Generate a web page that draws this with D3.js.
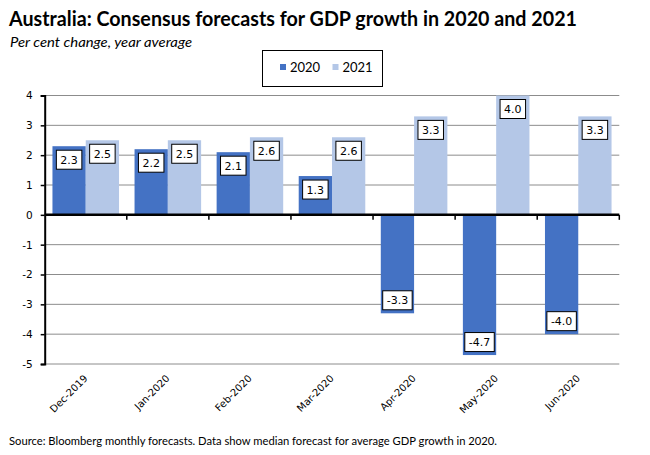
<!DOCTYPE html>
<html lang="en">
<head>
  <meta charset="UTF-8">
  <title>GDP consensus forecasts</title>
  <script src="https://d3js.org/d3.v7.min.js"></script>
  <style>
    body { margin: 0; background: #fff; }
    svg { display: block; }
  </style>
</head>
<body>
  <div id="chart"></div>

  <script>
    // datos
    const meses = ["Dec-2019", "Jan-2020", "Feb-2020", "Mar-2020", "Apr-2020", "May-2020", "Jun-2020"];
    const series = ["2020", "2021"];
    const valores2020 = [2.3, 2.2, 2.1, 1.3, -3.3, -4.7, -4.0];
    const valores2021 = [2.5, 2.5, 2.6, 2.6, 3.3, 4.0, 3.3];
    const ticksY = [4, 3, 2, 1, 0, -1, -2, -3, -4, -5];
    const colores = { "2020": "#4472C4", "2021": "#B4C7E7" };

    const ancho = 650;
    const alto = 455;

    // guion normal en lugar del signo menos de d3
    const formato = d3.formatLocale({ decimal: ".", thousands: ",", grouping: [3], currency: ["", ""], minus: "-" });
    const fmtEje = formato.format("d");
    const fmtDato = formato.format(".1f");

    const svg = d3.select("#chart")
      .append("svg")
      .attr("width", ancho)
      .attr("height", alto);

    // escalas
    const x = d3.scaleBand()
      .domain(meses)
      .range([44.7, 619.3])
      .paddingInner(0)
      .paddingOuter(0);

    const xSerie = d3.scaleBand()
      .domain(series)
      .range([0, x.bandwidth()])
      .paddingInner(0)
      .paddingOuter(0.233);

    const y = d3.scaleLinear()
      .domain([-5, 4])
      .range([364, 95.5]);

    // titulo
    svg.append("text")
      .attr("x", 9)
      .attr("y", 26)
      .attr("font-family", "Lato, 'Open Sans', sans-serif")
      .attr("font-weight", "bold")
      .attr("font-size", 20)
      .attr("textLength", 568)
      .attr("lengthAdjust", "spacingAndGlyphs")
      .text("Australia: Consensus forecasts for GDP growth in 2020 and 2021");

    svg.append("text")
      .attr("x", 10)
      .attr("y", 47)
      .attr("font-family", "Lato, 'Open Sans', sans-serif")
      .attr("font-style", "italic")
      .attr("font-size", 14)
      .attr("textLength", 182)
      .attr("lengthAdjust", "spacingAndGlyphs")
      .text("Per cent change, year average");

    // lineas de cuadricula
    svg.append("g")
      .selectAll("line")
      .data(ticksY.filter(d => d !== 0))
      .enter()
      .append("line")
      .attr("x1", x.range()[0])
      .attr("x2", x.range()[1])
      .attr("y1", d => y(d))
      .attr("y2", d => y(d))
      .attr("stroke", "#8c8c8c")
      .attr("stroke-width", 1);

    // barras
    const datos = [];
    meses.forEach((m, i) => {
      datos.push({ mes: m, serie: "2020", valor: valores2020[i] });
      datos.push({ mes: m, serie: "2021", valor: valores2021[i] });
    });

    svg.append("g")
      .selectAll(".barra")
      .data(datos)
      .enter()
      .append("rect")
      .attr("class", "barra")
      .attr("x", d => x(d.mes) + xSerie(d.serie))
      .attr("y", d => y(Math.max(0, d.valor)))
      .attr("width", xSerie.bandwidth())
      .attr("height", d => Math.abs(y(d.valor) - y(0)))
      .attr("fill", d => colores[d.serie]);

    // eje y
    const ejeY = d3.axisLeft(y)
      .tickValues(ticksY)
      .tickSize(4)
      .tickPadding(8)
      .tickFormat(fmtEje);

    const gY = svg.append("g")
      .attr("transform", `translate(${x.range()[0]},0)`)
      .call(ejeY);
    gY.select(".domain").attr("stroke", "#000").attr("stroke-width", 2);
    gY.selectAll(".tick line").attr("stroke", "#000").attr("stroke-width", 1.5);
    gY.selectAll(".tick text")
      .attr("font-family", "'DejaVu Sans', Verdana, sans-serif")
      .attr("font-size", 10.5)
      .attr("fill", "#000");

    // eje x en el cero
    const gX = svg.append("g").attr("transform", `translate(0,${y(0)})`);
    gX.append("line")
      .attr("x1", x.range()[0])
      .attr("x2", x.range()[1])
      .attr("stroke", "#000")
      .attr("stroke-width", 2.5);
    gX.selectAll(".marca")
      .data(meses.slice(1).concat([null]))
      .enter()
      .append("line")
      .attr("class", "marca")
      .attr("x1", (d, i) => x.range()[0] + x.step() * (i + 1))
      .attr("x2", (d, i) => x.range()[0] + x.step() * (i + 1))
      .attr("y1", 0)
      .attr("y2", 5)
      .attr("stroke", "#000")
      .attr("stroke-width", 1.5);

    // etiquetas de meses
    svg.append("g")
      .selectAll("text")
      .data(meses)
      .enter()
      .append("text")
      .attr("transform", d => `translate(${x(d) + x.bandwidth() / 2 + 2.5},379) rotate(-45)`)
      .attr("text-anchor", "end")
      .attr("font-family", "'DejaVu Sans', Verdana, sans-serif")
      .attr("font-size", 10)
      .attr("fill", "#000")
      .text(d => d);

    // etiquetas de datos
    const etiquetas = svg.append("g")
      .selectAll("g")
      .data(datos)
      .enter()
      .append("g");

    etiquetas.each(function(d) {
      const g = d3.select(this);
      const cx = x(d.mes) + xSerie(d.serie) + xSerie.bandwidth() / 2;
      const h = 19;
      const top = d.valor >= 0 ? y(d.valor) + 4 : y(d.valor) - 3.5 - h;
      const t = g.append("text")
        .attr("x", cx)
        .attr("y", top + h / 2)
        .attr("dy", "0.36em")
        .attr("text-anchor", "middle")
        .attr("font-family", "'DejaVu Sans', Verdana, sans-serif")
        .attr("font-size", 11)
        .attr("fill", "#000")
        .text(fmtDato(d.valor));
      const w = t.node().getComputedTextLength() + 8;
      g.insert("rect", "text")
        .attr("x", cx - w / 2)
        .attr("y", top)
        .attr("width", w)
        .attr("height", h)
        .attr("fill", "#fff")
        .attr("stroke", "#000")
        .attr("stroke-width", 1);
    });

    // leyenda
    const leyenda = svg.append("g");
    leyenda.append("rect")
      .attr("x", 262.5)
      .attr("y", 50.5)
      .attr("width", 120)
      .attr("height", 36)
      .attr("fill", "#fff")
      .attr("stroke", "#000")
      .attr("stroke-width", 1);

    const posLeyenda = [280, 332.5];
    series.forEach((s, i) => {
      leyenda.append("rect")
        .attr("x", posLeyenda[i])
        .attr("y", 64)
        .attr("width", 6)
        .attr("height", 6)
        .attr("fill", colores[s]);
      leyenda.append("text")
        .attr("x", posLeyenda[i] + 10)
        .attr("y", 67.5)
        .attr("dy", "0.36em")
        .attr("font-family", "Lato, 'Open Sans', sans-serif")
        .attr("font-size", 13)
        .attr("fill", "#000")
        .text(s);
    });

    // fuente
    svg.append("text")
      .attr("x", 9)
      .attr("y", 445)
      .attr("font-family", "Lato, 'Open Sans', sans-serif")
      .attr("font-size", 12)
      .attr("textLength", 488)
      .attr("lengthAdjust", "spacingAndGlyphs")
      .text("Source: Bloomberg monthly forecasts.  Data show median forecast for average GDP growth in 2020.");
  </script>
</body>
</html>
